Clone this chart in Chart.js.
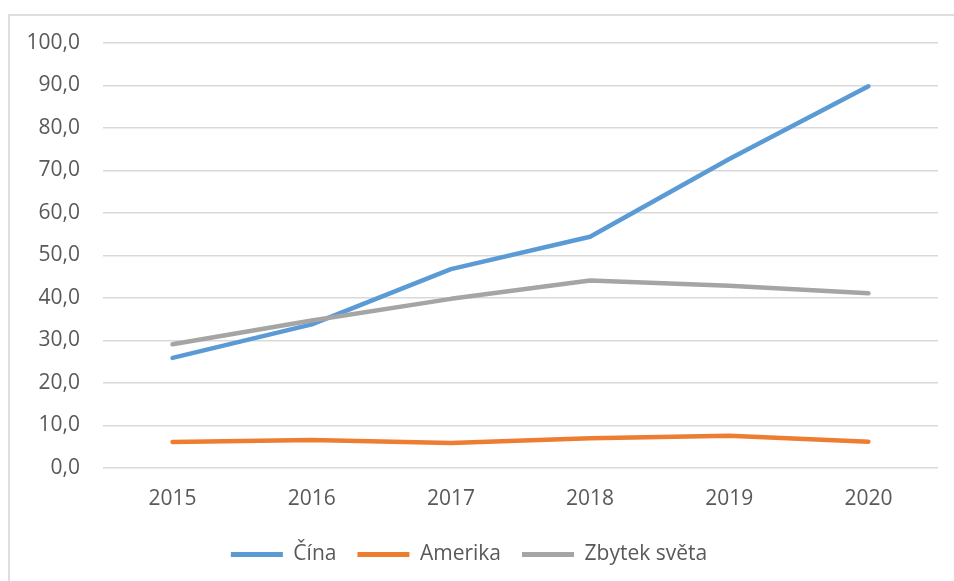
<!DOCTYPE html>
<html>
<head>
<meta charset="utf-8">
<script src="https://cdn.jsdelivr.net/npm/chart.js@4.4.1/dist/chart.umd.min.js"></script>
<style>
    html, body { margin: 0; padding: 0; background: #fff; overflow: hidden; }
    #frame {
        position: absolute; left: 8px; top: 14px;
        width: 1000px; height: 1000px;
        border: 2px solid #dedede;
    }
    #wrap { position: absolute; left: 0; top: 0; width: 954px; height: 581px; }
</style>
</head>
<body>
<div id="frame"></div>
<div id="wrap"><canvas id="lineChart"></canvas></div>
<script>
const years = ['2015', '2016', '2017', '2018', '2019', '2020'];
const cina = [25.9, 33.8, 46.8, 54.4, 72.7, 89.8];
const amerika = [6.1, 6.6, 5.9, 7.0, 7.6, 6.2];
const zbytek = [29.1, 34.7, 39.8, 44.1, 42.9, 41.1];
const seriesNames = ['Čína', 'Amerika', 'Zbytek světa'];
const colors = ['#5B9BD5', '#ED7D31', '#A5A5A5'];

const font = { family: 'Open Sans', size: 21 };

const ctx = document.getElementById('lineChart');
new Chart(ctx, {
    type: 'line',
    data: {
        labels: years,
        datasets: [cina, amerika, zbytek].map((values, i) => ({
            label: seriesNames[i],
            data: values,
            borderColor: colors[i],
            backgroundColor: colors[i],
            borderWidth: 4.5,
            borderCapStyle: 'round',
            borderJoinStyle: 'round',
            tension: 0,
            pointRadius: 0,
            order: 2 - i,
        }))
    },
    options: {
        responsive: true,
        maintainAspectRatio: false,
        animation: false,
        layout: {
            padding: { left: 0, right: 16, top: 43, bottom: 6 }
        },
        scales: {
            x: {
                offset: true,
                afterFit: (scale) => { scale.height = 55; },
                grid: { display: false },
                border: { display: false },
                ticks: { color: '#595959', font: font, padding: 10 }
            },
            y: {
                min: 0,
                max: 100,
                afterFit: (scale) => { scale.width = 103; },
                grid: { color: '#d9d9d9', lineWidth: 1.5, drawTicks: false },
                border: { display: false },
                ticks: {
                    stepSize: 10,
                    color: '#595959',
                    font: font,
                    padding: 23,
                    callback: (value) => value.toFixed(1).replace('.', ',')
                }
            }
        },
        plugins: {
            legend: {
                position: 'bottom',
                labels: {
                    color: '#595959',
                    font: font,
                    boxWidth: 52,
                    boxHeight: 5,
                    useBorderRadius: true,
                    borderRadius: 2.5,
                    padding: 21,
                    generateLabels: (chart) => chart.data.datasets.map((ds, i) => ({
                        text: ds.label,
                        fillStyle: ds.borderColor,
                        strokeStyle: ds.borderColor,
                        lineWidth: 0,
                        fontColor: '#595959',
                        datasetIndex: i,
                        hidden: false,
                    }))
                }
            },
            tooltip: { enabled: false }
        }
    }
});
</script>
</body>
</html>
